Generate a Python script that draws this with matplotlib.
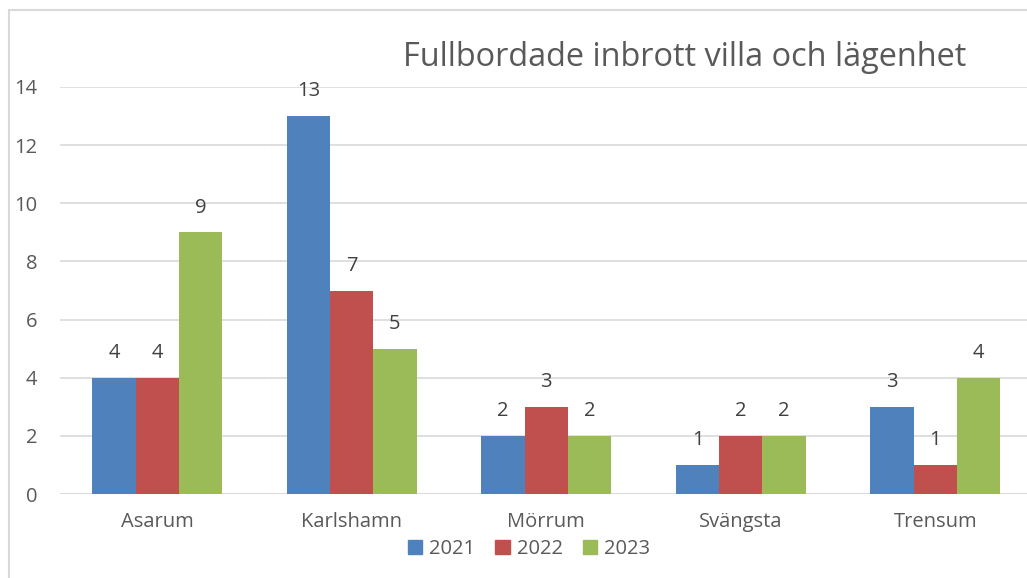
import matplotlib
matplotlib.use("Agg")
import matplotlib.pyplot as plt
import numpy as np
from matplotlib.patches import Rectangle

categories = ["Asarum", "Karlshamn", "Mörrum", "Svängsta", "Trensum"]
years = ["2021", "2022", "2023"]
v2021 = [4, 13, 2, 1, 3]
v2022 = [4, 7, 3, 2, 1]
v2023 = [9, 5, 2, 2, 4]
colors = ["#4f81bd", "#c0504d", "#9bbb59"]
title = "Fullbordade inbrott villa och lägenhet"

plt.rcParams['font.family'] = ['Open Sans', 'DejaVu Sans']
txt = "#595959"

W, H = 1027, 578
fig = plt.figure(figsize=(W/100, H/100), dpi=100)
# border
fig.patches.append(Rectangle((9/W, -0.1), 1.2, 1 - 10/H + 0.1, transform=fig.transFigure,
                             fill=False, edgecolor="#d9d9d9", linewidth=1.5))

left, right = 60, 1032.5
y0, y14 = 494, 87
ax = fig.add_axes([left/W, 1 - y0/H, (right-left)/W, (y0-y14)/H])
ax.set_xlim(-0.5, 4.5)
ax.set_ylim(0, 14)
x = np.arange(len(categories))
bw = 0.222
series = [v2021, v2022, v2023]
for i, (vals, c, yr) in enumerate(zip(series, colors, years)):
    pos = x + (i - 1) * bw
    ax.bar(pos, vals, width=bw, color=c, label=yr, zorder=3)
    for p, v in zip(pos, vals):
        ax.annotate(str(v), (p, v), xytext=(0, 10.5), textcoords="offset points",
                    ha="center", va="bottom", fontsize=14.5, color="#404040")

ax.set_yticks(range(0, 15, 2))
ax.yaxis.grid(True, color="#d9d9d9", linewidth=1.2, zorder=0)
for s in ax.spines.values():
    s.set_visible(False)
ax.axhline(0, color="#d9d9d9", linewidth=1.2, zorder=1)
ax.tick_params(axis="both", length=0, colors=txt, labelsize=14.5)
ax.tick_params(axis="y", pad=16.5)
ax.tick_params(axis="x", pad=13)
ax.set_xticks(x)
ax.set_xticklabels(categories)

fig.text(685/W, 1 - 57/H, title, ha="center", va="center", fontsize=23.4, color=txt)

handles = [Rectangle((0, 0), 1, 1, color=c) for c in colors]
fig.legend(handles, years, loc="center", bbox_to_anchor=(529/W, 1 - 549/H), ncol=3,
           frameon=False, fontsize=14.5, handlelength=0.7, handleheight=0.7,
           handletextpad=0.35, columnspacing=1.0, labelcolor=txt,
           borderpad=0, borderaxespad=0)

fig.savefig("out.png", dpi=100)
